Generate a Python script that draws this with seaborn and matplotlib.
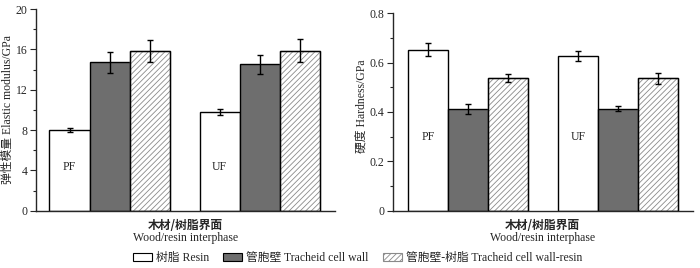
import numpy as np
import pandas as pd
import matplotlib
matplotlib.use('Agg')
import matplotlib.pyplot as plt
from matplotlib.patches import Patch, Rectangle
from matplotlib.ticker import MultipleLocator
import seaborn as sns

# data
resins = ['PF', 'UF']
parts = ['树脂 Resin', '管胞壁 Tracheid cell wall', '管胞壁-树脂 Tracheid cell wall-resin']

modulus = {'树脂 Resin': [7.98, 9.75],
           '管胞壁 Tracheid cell wall': [14.72, 14.5],
           '管胞壁-树脂 Tracheid cell wall-resin': [15.8, 15.88]}
modulus_err = {'树脂 Resin': [0.2, 0.3],
               '管胞壁 Tracheid cell wall': [1.05, 0.95],
               '管胞壁-树脂 Tracheid cell wall-resin': [1.1, 1.1]}

hardness = {'树脂 Resin': [0.653, 0.627],
            '管胞壁 Tracheid cell wall': [0.413, 0.413],
            '管胞壁-树脂 Tracheid cell wall-resin': [0.538, 0.537]}
hardness_err = {'树脂 Resin': [0.025, 0.022],
                '管胞壁 Tracheid cell wall': [0.02, 0.01],
                '管胞壁-树脂 Tracheid cell wall-resin': [0.017, 0.022]}

sns.set_style('ticks')
plt.rcParams['font.family'] = ['Liberation Serif', 'Noto Sans CJK SC']
plt.rcParams['hatch.linewidth'] = 0.6

fills = ['white', '#6e6e6e', 'white']
FS = 8.5


def draw(ax, vals, errs, ylim, major, minor, ylabel, label_y, ylab_xy):
    df = pd.DataFrame([(r, p, vals[p][i]) for p in parts for i, r in enumerate(resins)],
                      columns=['resin', 'part', 'value'])
    sns.barplot(data=df, x='resin', y='value', hue='part', hue_order=parts,
                palette=fills, errorbar=None, width=0.8, ax=ax,
                edgecolor='black', linewidth=1.0, legend=False)
    # bars come grouped by hue: part0 (PF, UF), part1 (PF, UF), ...
    for k, p in enumerate(parts):
        for i in range(len(resins)):
            bar = ax.patches[k * len(resins) + i]
            xc = bar.get_x() + bar.get_width() / 2
            ax.errorbar(xc, vals[p][i], yerr=errs[p][i], color='black',
                        capsize=2.5, elinewidth=1.0, capthick=1.0, zorder=5)
            if k == 2:
                bar.set_hatch('//////')
                bar.set_edgecolor('#8a8a8a')
                ax.add_patch(Rectangle(bar.get_xy(), bar.get_width(), bar.get_height(),
                                       fill=False, edgecolor='black', linewidth=1.0, zorder=3))
            if k == 0:
                ax.text(xc, label_y, resins[i], ha='center', va='center', fontsize=FS)
    ax.set_ylim(*ylim)
    ax.set_xlim(-0.49, 1.5)
    ax.yaxis.set_major_locator(MultipleLocator(major))
    ax.yaxis.set_minor_locator(MultipleLocator(minor))
    ax.tick_params(axis='y', which='major', length=4, width=0.8, labelsize=FS, direction='out', pad=2)
    ax.tick_params(axis='y', which='minor', length=2.5, width=0.8, direction='out')
    ax.tick_params(axis='x', length=0, labelbottom=False)
    sns.despine(ax=ax)
    for s in ['left', 'bottom']:
        ax.spines[s].set_linewidth(1.0)
    ax.set_xlabel('')
    ax.set_ylabel(ylabel, fontsize=FS)
    ax.yaxis.set_label_coords(*ylab_xy)
    h = ax.get_position().height * 268
    ax.text(0.5, -14.5 / h, '木材/树脂界面', transform=ax.transAxes, ha='center', va='center',
            fontsize=FS, fontweight='bold', family=['Noto Sans CJK SC'])
    ax.text(0.5, -27.5 / h, 'Wood/resin interphase', transform=ax.transAxes, ha='center',
            va='center', fontsize=FS)


fig = plt.figure(figsize=(7, 2.68), dpi=100)
ax1 = fig.add_axes([0.0514, 0.2138, 0.427, 0.7526])
ax2 = fig.add_axes([0.561, 0.2138, 0.429, 0.7366])

draw(ax1, modulus, modulus_err, (0, 20), 4, 2, '弹性模量 Elastic modulus/GPa', 4.3, (-0.074, 0.5))
draw(ax2, hardness, hardness_err, (0, 0.8), 0.2, 0.1, '硬度 Hardness/GPa', 0.30, (-0.082, 0.53))
ax2.yaxis.set_major_formatter(plt.FuncFormatter(lambda v, _: '0' if v == 0 else f'{v:.1f}'))
ax2.set_xlim(-0.5, 1.5)

handles = [Patch(facecolor='white', edgecolor='black', linewidth=0.8),
           Patch(facecolor='#6e6e6e', edgecolor='black', linewidth=0.8),
           Patch(facecolor='white', edgecolor='#8a8a8a', hatch='//////', linewidth=0.8)]
fig.legend(handles, parts, loc='center', bbox_to_anchor=(0.511, 0.038), ncol=3,
           frameon=False, fontsize=FS, handlelength=1.6, handleheight=0.68,
           columnspacing=1.2, handletextpad=0.35)

fig.savefig('out.png', dpi=100)
